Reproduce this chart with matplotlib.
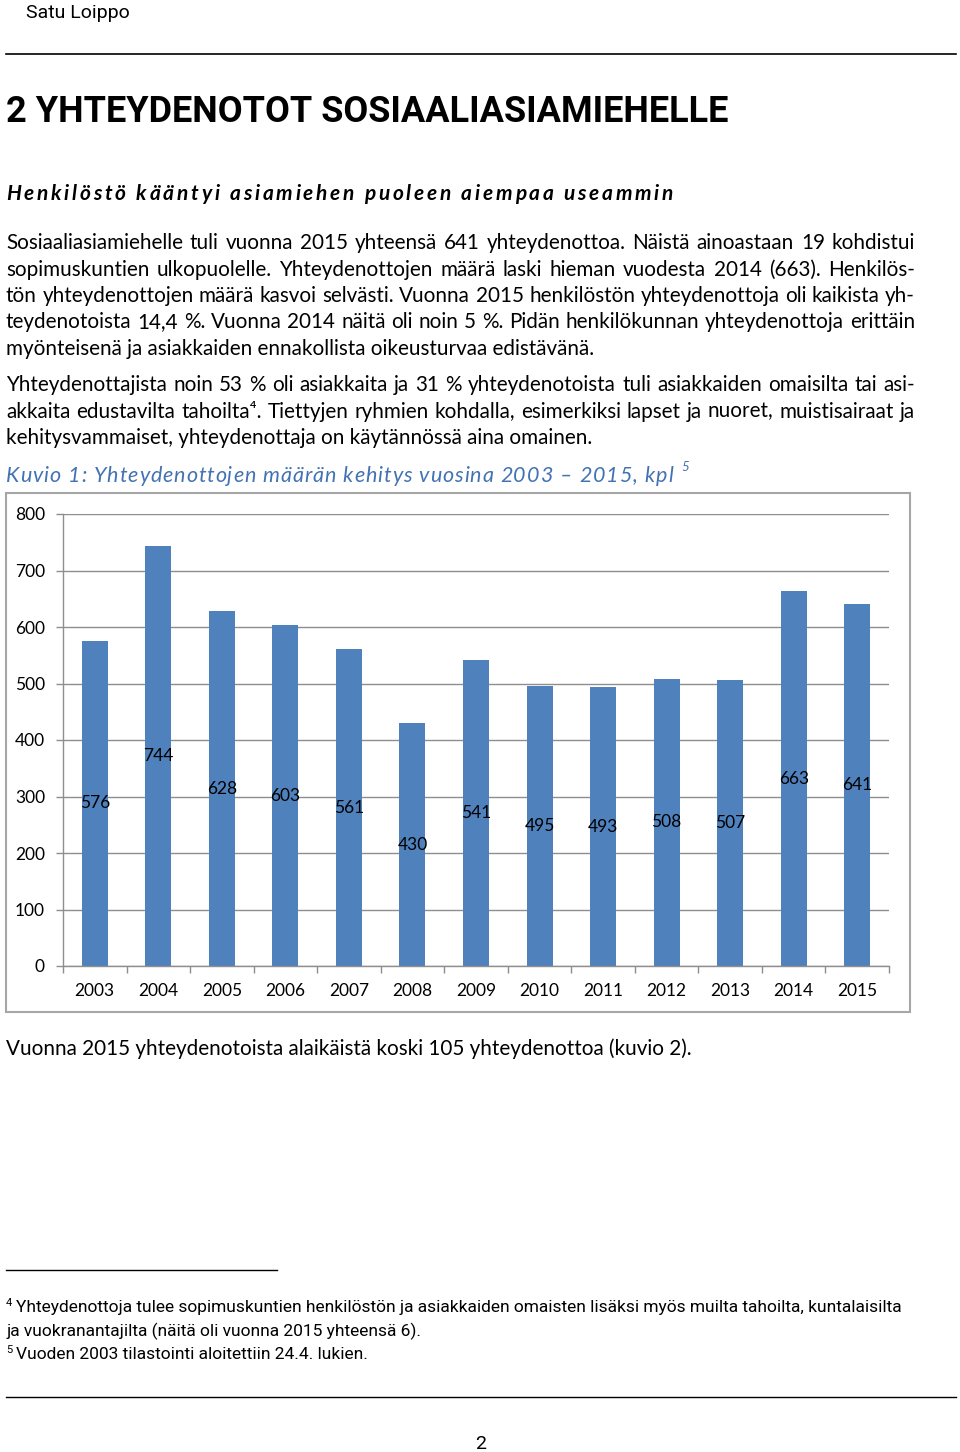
import matplotlib
matplotlib.use('Agg')
import numpy as np
import matplotlib.pyplot as plt
from matplotlib import font_manager as fm
from matplotlib.patches import Rectangle
from matplotlib.lines import Line2D

# ---------------- data ----------------
years = ['2003', '2004', '2005', '2006', '2007', '2008', '2009',
         '2010', '2011', '2012', '2013', '2014', '2015']
contacts = [576, 744, 628, 603, 561, 430, 541, 495, 493, 508, 507, 663, 641]
yticks = [0, 100, 200, 300, 400, 500, 600, 700, 800]

header = 'Satu Loippo'
title = '2 YHTEYDENOTOT SOSIAALIASIAMIEHELLE'
subtitle = 'Henkilöstö kääntyi asiamiehen puoleen aiempaa useammin'
para1 = [
    'Sosiaaliasiamiehelle tuli vuonna 2015 yhteensä 641 yhteydenottoa. Näistä ainoastaan 19 kohdistui',
    'sopimuskuntien ulkopuolelle. Yhteydenottojen määrä laski hieman vuodesta 2014 (663). Henkilös-',
    'tön yhteydenottojen määrä kasvoi selvästi. Vuonna 2015 henkilöstön yhteydenottoja oli kaikista yh-',
    'teydenotoista 14,4 %. Vuonna 2014 näitä oli noin 5 %. Pidän henkilökunnan yhteydenottoja erittäin',
    'myönteisenä ja asiakkaiden ennakollista oikeusturvaa edistävänä.',
]
para2 = [
    'Yhteydenottajista noin 53 % oli asiakkaita ja 31 % yhteydenotoista tuli asiakkaiden omaisilta tai asi-',
    'akkaita edustavilta tahoilta⁴. Tiettyjen ryhmien kohdalla, esimerkiksi lapset ja nuoret, muistisairaat ja',
    'kehitysvammaiset, yhteydenottaja on käytännössä aina omainen.',
]
caption = 'Kuvio 1: Yhteydenottojen määrän kehitys vuosina 2003 – 2015, kpl'
after_text = 'Vuonna 2015 yhteydenotoista alaikäistä koski 105 yhteydenottoa (kuvio 2).'
footnotes = [
    ('4', 'Yhteydenottoja tulee sopimuskuntien henkilöstön ja asiakkaiden omaisten lisäksi myös muilta tahoilta, kuntalaisilta'),
    ('', 'ja vuokranantajilta (näitä oli vuonna 2015 yhteensä 6).'),
    ('5', 'Vuoden 2003 tilastointi aloitettiin 24.4. lukien.'),
]
page_no = '2'

# ---------------- setup ----------------
W, H = 960, 1452
fig = plt.figure(figsize=(W / 100, H / 100), dpi=100)
r = fig.canvas.get_renderer()


def fx(x):
    return x / W


def fy(y):
    return 1 - y / H


def have(name):
    try:
        fm.findfont(fm.FontProperties(family=name), fallback_to_default=False)
        return True
    except Exception:
        return False


BODY = ['Lato', 'DejaVu Sans']
NARROW = ['Liberation Sans Narrow', 'DejaVu Sans'] if have('Liberation Sans Narrow') else ['Roboto', 'DejaVu Sans']
BLUE_BAR = '#4F81BD'
CAP_BLUE = '#4272B4'
GRID = '#8E8E8E'


def width_of(s, **kw):
    t = fig.text(0, 0, s, **kw)
    w = t.get_window_extent(r).width
    t.remove()
    return w


def hline(x0, x1, y, lw=1.0, color='black'):
    fig.add_artist(Line2D([fx(x0), fx(x1)], [fy(y), fy(y)], transform=fig.transFigure,
                          color=color, lw=lw))


def fit_text(x0, x1, y, s, size0=12, **kw):
    t = fig.text(fx(x0), fy(y), s, fontsize=size0, va='baseline', ha='left', **kw)
    w = t.get_window_extent(r).width
    t.set_fontsize(size0 * (x1 - x0) / w)
    return t


def justify(x0, x1, y, line, last=False, **kw):
    words = line.split(' ')
    if last:
        fig.text(fx(x0), fy(y), line, va='baseline', ha='left', **kw)
        return
    ws = [width_of(w, **kw) for w in words]
    gap = (x1 - x0 - sum(ws)) / (len(words) - 1)
    x = x0
    for w, wd in zip(words, ws):
        fig.text(fx(x), fy(y), w, va='baseline', ha='left', **kw)
        x += wd + gap


def tracked(x0, x1, y, s, **kw):
    natural = width_of(s, **kw)
    track = (x1 - x0 - natural) / (len(s) - 1)
    ref = width_of('x', **kw)
    for i, ch in enumerate(s):
        if ch == ' ':
            continue
        off = (width_of(s[:i] + 'x', **kw) - ref) if i > 0 else 0.0
        fig.text(fx(x0 + off + i * track), fy(y), ch, va='baseline', ha='left', **kw)


# ---------------- page text ----------------
fig.text(fx(26), fy(18), header, fontsize=14, family=NARROW, va='baseline', ha='left')
hline(6, 956, 54, lw=1.2)

fit_text(6, 730, 122, title, size0=28, family=NARROW, weight='bold')

tracked(6, 673, 200, subtitle, fontsize=15, family=BODY, weight='bold', style='italic')

body_kw = dict(fontsize=14.9, family=BODY, color='black')
base1 = [249, 275.5, 302, 328.5, 355]
for i, ln in enumerate(para1):
    justify(6, 915, base1[i], ln, last=(i == len(para1) - 1), **body_kw)
base2 = [391, 417.5, 444]
for i, ln in enumerate(para2):
    justify(6, 915, base2[i], ln, last=(i == len(para2) - 1), **body_kw)

tracked(6, 673, 482, caption, fontsize=15.5, family=BODY, style='italic', color=CAP_BLUE)
fig.text(fx(681), fy(471), '5', fontsize=9.5, family=BODY, style='italic', color=CAP_BLUE,
         va='baseline', ha='left')

fig.text(fx(6), fy(1055), after_text, va='baseline', ha='left', **body_kw)

# ---------------- chart ----------------
fig.add_artist(Rectangle((fx(6), fy(1012)), fx(910) - fx(6), fy(493) - fy(1012),
                         transform=fig.transFigure, fill=False, edgecolor='#A6A6A6', lw=1.5))

ax = fig.add_axes([fx(63), fy(966), fx(889) - fx(63), fy(514) - fy(966)])
xpos = np.arange(len(years))
ax.bar(xpos, contacts, width=0.41, color=BLUE_BAR, zorder=2)
for xi, v in zip(xpos, contacts):
    ax.text(xi, v / 2, str(v), ha='center', va='center', fontsize=12.5,
            family=BODY, color='black', zorder=3)

ax.set_xlim(-0.5, len(years) - 0.5)
ax.set_ylim(0, 800)
ax.set_yticks(yticks)
ax.set_yticklabels([str(t) for t in yticks], family=BODY, fontsize=12.5)
ax.yaxis.grid(True, color=GRID, lw=1.0, zorder=0)
ax.set_axisbelow(True)
ax.set_xticks(np.arange(-0.5, len(years), 1.0))
ax.set_xticklabels([])
ax.set_xticks(xpos, minor=True)
ax.set_xticklabels(years, minor=True, family=BODY, fontsize=12.5)
ax.tick_params(axis='x', which='major', length=5, color=GRID, width=1, direction='out')
ax.tick_params(axis='x', which='minor', length=0, pad=12)
ax.tick_params(axis='y', length=5, color=GRID, width=1, pad=8)
for s in ('top', 'right'):
    ax.spines[s].set_visible(False)
for s in ('left', 'bottom'):
    ax.spines[s].set_color(GRID)
    ax.spines[s].set_linewidth(1.0)
ax.patch.set_alpha(0)

# ---------------- footnotes ----------------
hline(6, 277, 1270, lw=1.0)
fn_base = [1312, 1336, 1359]
fn_main = None
for (sup, txt), yb in zip(footnotes, fn_base):
    if sup:
        fig.text(fx(6), fy(yb - 6), sup, fontsize=8, family=NARROW, va='baseline', ha='left')
        x0 = 16
    else:
        x0 = 6
    if fn_main is None:
        t = fit_text(x0, 898, yb, txt, size0=12, family=NARROW)
        fn_main = t.get_fontsize()
    else:
        fig.text(fx(x0), fy(yb), txt, fontsize=fn_main, family=NARROW, va='baseline', ha='left')

hline(6, 956, 1397, lw=1.0)
fig.text(fx(481), fy(1449), page_no, fontsize=14, family=NARROW, va='baseline', ha='center')

fig.savefig('out.png', dpi=100)
